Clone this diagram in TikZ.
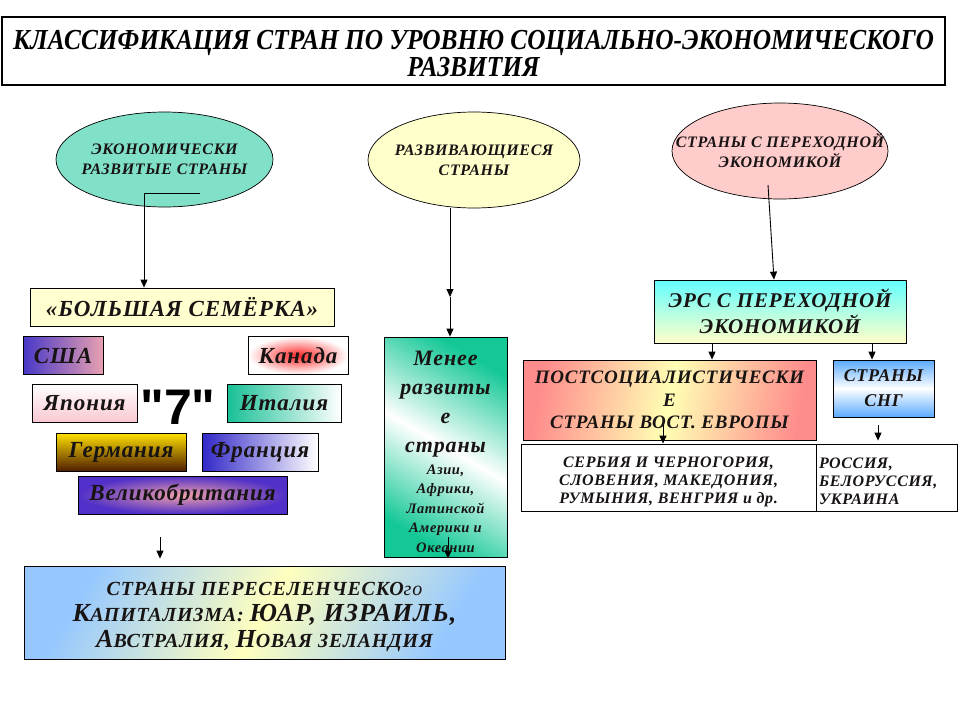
\documentclass[tikz,border=0pt]{standalone}
\usepackage{fontspec}
\setmainfont{Liberation Serif}
\newfontfamily\narrowserif[FakeStretch=0.875]{Liberation Serif}
\newfontfamily\widebi[LetterSpace=4]{Liberation Serif}
\newfontfamily\heavysans{Liberation Sans}
\usetikzlibrary{arrows.meta,shapes.geometric}
\newcommand{\bitext}{\widebi\bfseries\itshape}
\newcommand{\fsz}[2]{\fontsize{#1}{#2}\selectfont}
\newcommand{\biglet}[1]{{\fsz{26}{26}#1}}
\newcommand{\zw}[1]{\makebox[0pt]{#1}}
\newcommand{\lift}[1]{\rule{0pt}{#1}}

\definecolor{ovalteal}{RGB}{128,224,200}
\definecolor{ovalyellow}{RGB}{255,255,204}
\definecolor{ovalpink}{RGB}{255,204,204}
\definecolor{sevenfill}{RGB}{255,255,208}
\definecolor{usaL}{RGB}{72,56,200}
\definecolor{usaR}{RGB}{232,160,176}
\definecolor{canred}{RGB}{255,40,40}
\definecolor{japbot}{RGB}{248,200,210}
\definecolor{italyL}{RGB}{24,192,150}
\definecolor{gerT}{RGB}{255,224,0}
\definecolor{gerB}{RGB}{80,30,0}
\definecolor{franceL}{RGB}{50,40,200}
\definecolor{gbout}{RGB}{80,48,200}
\definecolor{gbin}{RGB}{240,160,170}
\definecolor{lessteal}{RGB}{20,200,150}
\definecolor{erstop}{RGB}{100,255,255}
\definecolor{ersbot}{RGB}{255,255,200}
\definecolor{postedge}{RGB}{255,140,140}
\definecolor{postmid}{RGB}{255,255,180}
\definecolor{cisedge}{RGB}{90,170,255}
\definecolor{botedge}{RGB}{150,200,255}
\definecolor{botmid}{RGB}{255,255,190}
\definecolor{ink}{RGB}{25,20,20}

\begin{document}
\begin{tikzpicture}[x=1pt,y=-1pt,
   box/.style={draw=black,line width=0.8pt,inner sep=0pt,align=center,text=ink,font=\bitext},
   oval/.style={ellipse,draw=black,line width=0.7pt,inner sep=0pt,align=center,text=ink,
                font={\bitext\fsz{16}{20}}},
   land/.style={box,minimum height=38,font={\bitext\fsz{23}{26}}},
   arr/.style={-{Triangle[length=8pt,width=7pt]},line width=0.9pt}]
   \useasboundingbox (0,0) rectangle (960,720);

   % title
   \node[box,line width=2.5pt,minimum width=943,minimum height=68,text=black,
         font={\narrowserif\bfseries\itshape\fsz{29}{27}}] (title) at (473.5,51)
        {\lift{25pt}КЛАССИФИКАЦИЯ СТРАН ПО УРОВНЮ СОЦИАЛЬНО-ЭКОНОМИЧЕСКОГО\\РАЗВИТИЯ};

   % three groups
   \node[oval,fill=ovalteal,minimum width=217,minimum height=95] (devd) at (164.5,159.5)
        {\zw{ЭКОНОМИЧЕСКИ}\\\zw{РАЗВИТЫЕ СТРАНЫ}};
   \node[oval,fill=ovalyellow,minimum width=212,minimum height=96] (devg) at (474,160)
        {\zw{РАЗВИВАЮЩИЕСЯ}\\\zw{СТРАНЫ}};
   \node[oval,fill=ovalpink,minimum width=216,minimum height=96] (trans) at (780,151)
        {\zw{СТРАНЫ С ПЕРЕХОДНОЙ}\\\zw{ЭКОНОМИКОЙ}};

   % big seven
   \node[box,fill=sevenfill,minimum width=304,minimum height=38,font={\bitext\fsz{23}{24}}]
        (bigseven) at (182,307) {«БОЛЬШАЯ СЕМЁРКА»};
   \node[land,left color=usaL,right color=usaR,minimum width=80] (usa) at (63,355.5) {США};
   \node[land,inner color=canred,outer color=white,minimum width=100] (canada) at (298,355.5) {Канада};
   \node[land,top color=white,bottom color=japbot,minimum width=105] (japan) at (84.5,403) {Япония};
   \node[font={\heavysans\bfseries\fsz{50}{50}},inner sep=0pt] (seven) at (178,407) {"7"};
   \node[land,left color=italyL,right color=white,minimum width=114] (italy) at (284,403) {Италия};
   \node[land,top color=gerT,bottom color=gerB,minimum width=130] (germany) at (121,452) {Германия};
   \node[land,left color=franceL,right color=white,minimum width=116] (france) at (260,452) {Франция};
   \node[land,inner color=gbin,outer color=gbout,minimum width=209] (gb) at (182.5,495) {Великобритания};

   % developing
   \node[box,top color=lessteal,bottom color=lessteal,middle color=white,shading angle=-30,
         minimum width=123,minimum height=220,font={\bitext\fsz{22}{29}}] (less) at (445.5,447)
        {\lift{24pt}Менее\\развиты\\е\\страны\\[-7pt]{\fsz{14.5}{19}Азии,}\\[-9.5pt]{\fsz{14.5}{19}Африки,}\\[-9.5pt]%
         {\fsz{14.5}{19}Латинской}\\[-9.5pt]{\fsz{14.5}{19}Америки и}\\[-9.5pt]{\fsz{14.5}{19}Океании}};

   % transition
   \node[box,top color=erstop,bottom color=ersbot,minimum width=252,minimum height=63,
         font={\bitext\fsz{21}{26}}] (ers) at (780,311.5) {ЭРС С ПЕРЕХОДНОЙ\\ЭКОНОМИКОЙ};
   \node[box,left color=postedge,right color=postedge,middle color=postmid,shading angle=80,
         minimum width=293,minimum height=80,font={\bitext\fsz{19}{22.5}}] (post) at (669.5,400)
        {ПОСТСОЦИАЛИСТИЧЕСКИ\\Е\\СТРАНЫ ВОСТ. ЕВРОПЫ};
   \node[box,top color=cisedge,bottom color=cisedge,middle color=white,minimum width=101,
         minimum height=57,font={\bitext\fsz{18}{25}}] (cis) at (883.5,388.5) {СТРАНЫ\\СНГ};
   \node[box,fill=white,minimum width=295,minimum height=67,font={\bitext\fsz{16}{18}}]
        (east) at (668.5,477.5) {\lift{19pt}СЕРБИЯ И ЧЕРНОГОРИЯ,\\СЛОВЕНИЯ, МАКЕДОНИЯ,\\РУМЫНИЯ, ВЕНГРИЯ и др.};
   \node[box,fill=white,minimum width=141,minimum height=67,text width=135,align=left,
         font={\bitext\fsz{16}{18}}] (russia) at (886.5,477.5) {\lift{19pt}РОССИЯ,\\БЕЛОРУССИЯ,\\УКРАИНА};

   % settler capitalism
   \node[box,top color=botedge,bottom color=botedge,middle color=botmid,shading angle=60,
         minimum width=481,minimum height=93,font={\bitext\fsz{20}{26}}] (settler) at (264.5,612.5)
        {\lift{22pt}СТРАНЫ ПЕРЕСЕЛЕНЧЕСКО{\mdseries го}\\\biglet{К}АПИТАЛИЗМА: \biglet{ЮАР, ИЗРАИЛЬ,}\\
         \biglet{А}ВСТРАЛИЯ, \biglet{Н}ОВАЯ ЗЕЛАНДИЯ};

   % connectors
   \coordinate (devdk) at (200,193);
   \coordinate (devdv) at (144,193);
   \draw[arr] (devdk) -- (devdv) -- (devdv |- bigseven.north);
   \coordinate (devgm) at (450,297);
   \draw[arr] (devgm |- devg.south) -- (devgm);
   \draw[arr] (devgm) -- (devgm |- less.north);
   \coordinate (transk) at (768,185);
   \draw[arr] (transk) -- ([xshift=-6pt]ers.north);
   \draw[arr] ([xshift=-68pt]ers.south) -- ([xshift=-68pt]ers.south |- post.north);
   \draw[arr] ([xshift=92pt]ers.south) -- ([xshift=92pt]ers.south |- cis.north);
   \coordinate (postk) at (663,425);
   \draw[arr] (postk) -- (postk |- east.north);
   \coordinate (cisk) at (878,425);
   \draw[arr,shorten >=3pt] (cisk) -- (cisk |- russia.north);
   \coordinate (sevenk) at (160,537);
   \draw[arr,shorten >=7pt] (sevenk) -- (sevenk |- settler.north);
   \coordinate (lessk) at (448,537);
   \draw[arr,shorten >=7pt] (lessk) -- (lessk |- settler.north);
\end{tikzpicture}
\end{document}
